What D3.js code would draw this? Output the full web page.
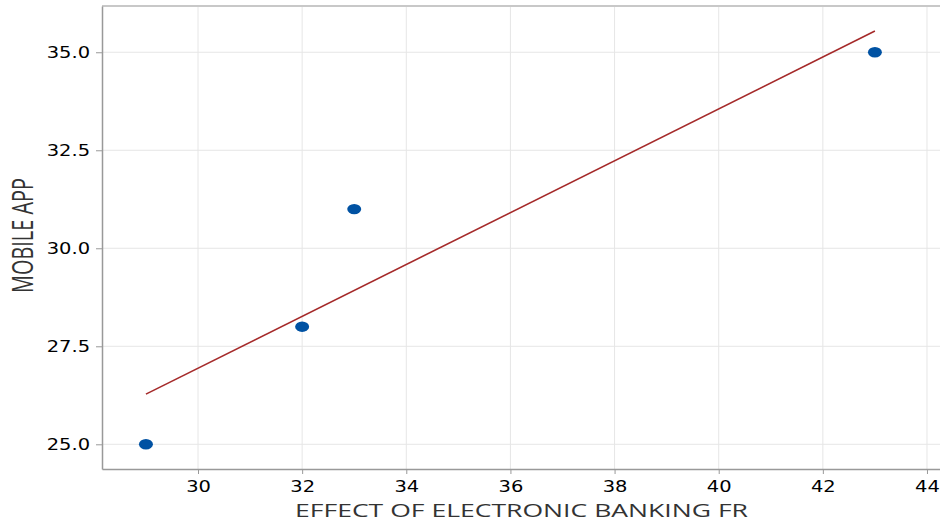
<!DOCTYPE html>
<html>
<head>
<meta charset="utf-8">
<script src="https://cdn.jsdelivr.net/npm/d3@7"></script>
<style>
  body { margin: 0; background: #fff; }
  svg { display: block; }
</style>
</head>
<body>
<div id="chart"></div>
<script>
// data
const xValues = [29, 32, 33, 43];
const yValues = [25, 28, 31, 35];
// fitted line end points as drawn in the picture
const fitX = [29, 43];
const fitY = [26.28, 35.54];
const xTicks = [30, 32, 34, 36, 38, 40, 42, 44];
const yTicks = [25, 27.5, 30, 32.5, 35];
const xTitle = "EFFECT OF ELECTRONIC BANKING FR";
const yTitle = "MOBILE APP";

const W = 940, H = 522;
const margin = { top: 6, right: 0, bottom: 53, left: 102 };
const width = W - margin.left - margin.right;
const height = H - margin.top - margin.bottom;
const stretch = 1.18; // tick labels look wider than normal

const svg = d3.select("#chart")
    .append("svg")
    .attr("width", W)
    .attr("height", H)
    .append("g")
    .attr("transform", "translate(" + margin.left + "," + margin.top + ")");

const x = d3.scaleLinear().domain([28.156, 44.25]).range([0, width]);
const y = d3.scaleLinear().domain([24.37, 36.18]).range([height, 0]);

// grid
svg.append("g").selectAll("line.gx")
    .data(xTicks)
    .enter().append("line")
    .attr("x1", d => x(d)).attr("x2", d => x(d))
    .attr("y1", 0).attr("y2", height)
    .attr("stroke", "#e6e6e6");
svg.append("g").selectAll("line.gy")
    .data(yTicks)
    .enter().append("line")
    .attr("x1", 0).attr("x2", width)
    .attr("y1", d => y(d)).attr("y2", d => y(d))
    .attr("stroke", "#e6e6e6");

// top border
svg.append("line")
    .attr("x1", 0).attr("x2", width)
    .attr("y1", 0).attr("y2", 0)
    .attr("stroke", "#c8c8c8")
    .attr("stroke-width", 2);

// axes
const xAxis = svg.append("g")
    .attr("transform", "translate(0," + height + ")")
    .call(d3.axisBottom(x).tickValues(xTicks).tickFormat(d3.format("d")).tickSize(5).tickPadding(6).tickSizeOuter(0));
const yAxis = svg.append("g")
    .call(d3.axisLeft(y).tickValues(yTicks).tickFormat(d3.format(".1f")).tickSize(6).tickPadding(6).tickSizeOuter(0));

[xAxis, yAxis].forEach(a => {
    a.select(".domain").attr("stroke", "#999").attr("stroke-width", 1.5);
    a.selectAll(".tick line").attr("stroke", "#999");
    a.selectAll(".tick text")
        .attr("fill", "#000")
        .style("font-family", "DejaVu Sans, Verdana, sans-serif")
        .style("font-size", "16.5px");
});
yAxis.selectAll(".tick text")
    .attr("x", -12 / stretch)
    .attr("transform", "scale(" + stretch + ",1)");
xAxis.selectAll(".tick text")
    .attr("transform", "scale(" + stretch + ",1)");

// fitted line
svg.append("path")
    .datum(fitX.map((d, i) => [d, fitY[i]]))
    .attr("d", d3.line().x(d => x(d[0])).y(d => y(d[1])))
    .attr("fill", "none")
    .attr("stroke", "#a52a2a")
    .attr("stroke-width", 1.6);

// points
svg.selectAll(".pt")
    .data(xValues.map((d, i) => [d, yValues[i]]))
    .enter().append("ellipse")
    .attr("class", "pt")
    .attr("cx", d => x(d[0]))
    .attr("cy", d => y(d[1]))
    .attr("rx", 7)
    .attr("ry", 5.2)
    .attr("fill", "#0052a3");

// titles
svg.append("text")
    .attr("x", 295 - margin.left)
    .attr("y", 517 - margin.top)
    .attr("textLength", 453)
    .attr("lengthAdjust", "spacingAndGlyphs")
    .style("font-family", "Open Sans, sans-serif")
    .style("font-size", "18px")
    .style("font-weight", 500)
    .attr("fill", "#333")
    .text(xTitle);

svg.append("text")
    .attr("transform", "translate(" + (33 - margin.left) + "," + (293 - margin.top) + ") rotate(-90)")
    .attr("textLength", 115)
    .attr("lengthAdjust", "spacingAndGlyphs")
    .style("font-family", "Open Sans, sans-serif")
    .style("font-size", "29px")
    .style("font-weight", 500)
    .attr("fill", "#333")
    .text(yTitle);
</script>
</body>
</html>
